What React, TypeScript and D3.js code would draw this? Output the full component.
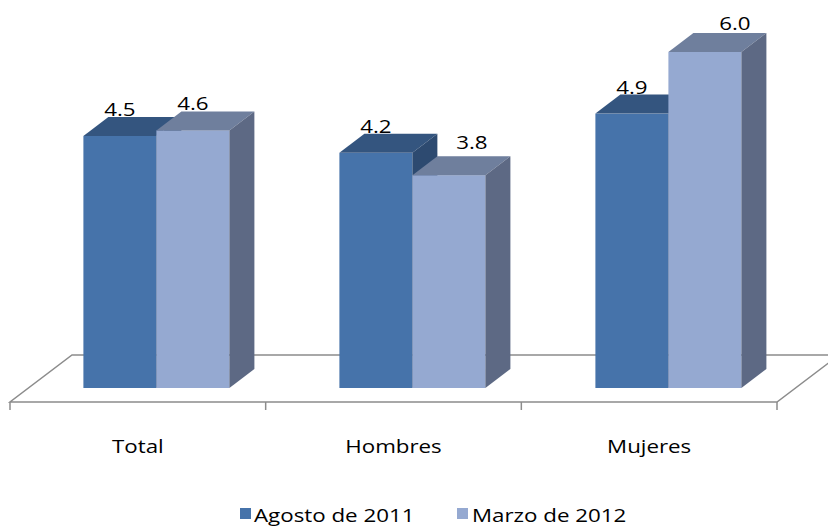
import React from "react";
import * as d3 from "d3";

const categories = ["Total", "Hombres", "Mujeres"];
const seriesNames = ["Agosto de 2011", "Marzo de 2012"];
const agosto2011 = [4.5, 4.2, 4.9];
const marzo2012 = [4.6, 3.8, 6.0];
const seriesValues = [agosto2011, marzo2012];

// label nudges (layout only), [series][category] -> [dx, dy]
const labelNudge = [
  [[0, 0], [0, 0], [0, 0]],
  [[0, 0], [23, -6], [30, -2]],
];

const W = 828;
const H = 529;
const FONT = "'Open Sans', Lato, sans-serif";
const SX = 1.2;
const FS = 18.6;

const frontColors = ["#4673AA", "#95A9D1"];
const topColors = ["#34557F", "#6F7F9D"];
const sideColors = ["#2D4A70", "#5D6984"];

export default function App() {
  const dx = 25;
  const dy = -19;
  const base = 388;

  const x = d3
    .scaleBand<string>()
    .domain(categories)
    .range([28.4, 796.4])
    .paddingInner(110 / 256)
    .paddingOuter(55 / 256);
  const xs = d3
    .scaleBand<number>()
    .domain([0, 1])
    .range([0, x.bandwidth()])
    .padding(0);
  const y = d3.scaleLinear().domain([0, 6]).range([base, 52]);

  const floorX = d3.scaleBand<string>().domain(categories).range([10, 777]);
  const floorY = 402;
  const fdx = 62;
  const fdy = -47;

  const tickXs = [floorX(categories[0])!, ...categories.map((c) => floorX(c)! + floorX.bandwidth())];

  const Txt = ({ tx, ty, s, anchor = "middle" }: { tx: number; ty: number; s: string; anchor?: string }) => (
    <text
      transform={`translate(${tx},${ty}) scale(${SX},1)`}
      textAnchor={anchor}
      fontFamily={FONT}
      fontSize={FS}
      fill="#000"
    >
      {s}
    </text>
  );

  const bars: React.ReactNode[] = [];
  const labels: React.ReactNode[] = [];
  categories.forEach((c, ci) => {
    seriesValues.forEach((vals, si) => {
      const v = vals[ci];
      const x0 = x(c)! + xs(si)!;
      const w = xs.bandwidth();
      const yt = y(v);
      bars.push(
        <g key={`${c}-${si}`}>
          <rect x={x0} y={yt} width={w} height={base - yt} fill={frontColors[si]} />
          <polygon
            points={`${x0},${yt} ${x0 + dx},${yt + dy} ${x0 + w + dx},${yt + dy} ${x0 + w},${yt}`}
            fill={topColors[si]}
          />
          <polygon
            points={`${x0 + w},${yt} ${x0 + w + dx},${yt + dy} ${x0 + w + dx},${base + dy} ${x0 + w},${base}`}
            fill={sideColors[si]}
          />
        </g>
      );
      const [ndx, ndy] = labelNudge[si][ci];
      labels.push(
        <Txt key={`l-${c}-${si}`} tx={x0 + w / 2 + ndx} ty={yt + dy - 1 + ndy} s={v.toFixed(1)} />
      );
    });
  });

  const fl = floorX.range()[0];
  const fr = floorX.range()[1];

  return (
    <svg width={W} height={H} style={{ position: "absolute", left: 0, top: 0, background: "#fff" }}>
      <g stroke="#8C8C8C" strokeWidth={1.5} fill="none">
        <polygon points={`${fl},${floorY} ${fr},${floorY} ${fr + fdx},${floorY + fdy} ${fl + fdx},${floorY + fdy}`} fill="#fff" />
        {tickXs.map((t, i) => (
          <line key={i} x1={t} x2={t} y1={floorY} y2={floorY + 8} />
        ))}
      </g>
      {bars}
      {labels}
      {categories.map((c) => (
        <Txt key={c} tx={floorX(c)! + floorX.bandwidth() / 2} ty={453} s={c} />
      ))}
      <g>
        <rect x={240} y={508} width={11} height={11} fill={frontColors[0]} />
        <Txt tx={254} ty={522} s={seriesNames[0]} anchor="start" />
        <rect x={457} y={508} width={11} height={11} fill={frontColors[1]} />
        <Txt tx={472} ty={522} s={seriesNames[1]} anchor="start" />
      </g>
    </svg>
  );
}
